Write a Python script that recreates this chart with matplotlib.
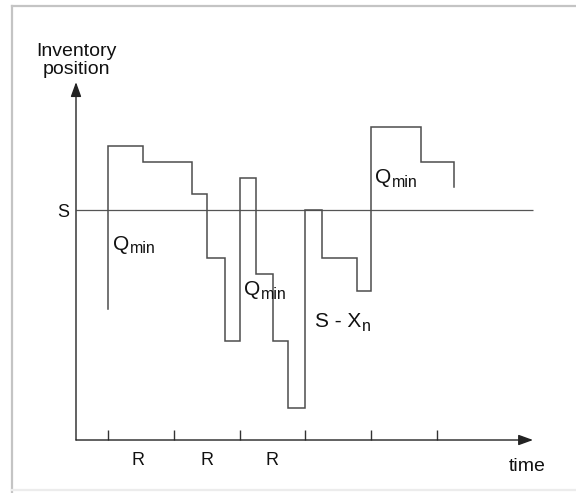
import matplotlib
matplotlib.use("Agg")
from matplotlib import pyplot as plt
from matplotlib.lines import Line2D

plt.rcParams['font.family'] = ['Liberation Sans', 'DejaVu Sans']

# review instants (one per R) and order-up-to level S
review_times = [1, 2, 3, 4, 5, 6]
R_label_pos = [1.45, 2.5, 3.5]
S_level = 100

# inventory position path: change instants and level held after each one
step_t = [1.0, 1.53, 2.28, 2.5, 2.78, 3.0, 3.25, 3.51, 3.74, 4.0,
          4.26, 4.78, 5.0, 5.76, 6.26]
step_level = [128, 121, 107, 79, 43, 114, 72, 43, 14, 100,
              79, 65, 136, 121]
start_level = 57
end_level = 110

# annotations: (main text, subscript, x, y)
labels = [('Q', 'min', 1.08, 82.6),
          ('Q', 'min', 3.07, 63),
          ('Q', 'min', 5.06, 111.7),
          ('S - X', 'n', 4.15, 49.1)]

fig = plt.figure(figsize=(5.76, 4.93), dpi=100)
ax = fig.add_axes([0, 0, 1, 1])
ax.set_xlim(-0.641, 8.113)
ax.set_ylim(-23.04, 191.3)
ax.axis('off')

# light frame around the picture (open on the right)
fl, ft, fb = 12 / 576, 1 - 6 / 493, 1 - 490 / 493
for xx, yy, c in [([fl, fl], [0, ft], '#c4c4c4'),
                  ([fl, 1], [ft, ft], '#c4c4c4'),
                  ([fl, 1], [fb, fb], '#ececec')]:
    fig.add_artist(Line2D(xx, yy, transform=fig.transFigure,
                          color=c, lw=1.6))

x0 = 0.514
x_end = 7.46
y_top = 155.6

# axes with arrows
arrow = dict(arrowstyle='-|>,head_length=0.55,head_width=0.2',
             color='#222222', lw=1.0, mutation_scale=16,
             shrinkA=0, shrinkB=0)
ax.annotate('', xy=(x0, y_top), xytext=(x0, 0), arrowprops=arrow)
ax.annotate('', xy=(x_end, 0), xytext=(x0, 0), arrowprops=arrow)
ax.vlines(review_times, 0, 4.3, color='#333333', lw=1.0)

# S level
ax.hlines(S_level, x0, x_end, color='#555555', lw=0.9)

# step path
xs = [step_t[0]]
ys = [start_level]
for i, lvl in enumerate(step_level):
    xs += [step_t[i], step_t[i + 1]]
    ys += [lvl, lvl]
xs.append(step_t[-1])
ys.append(end_level)
ax.plot(xs, ys, color='#4d4d4d', lw=1.1, solid_joinstyle='miter')

# labels
ax.text(x0, 165, 'Inventory\nposition', ha='center', va='center',
        fontsize=14, color='#111111', linespacing=1.15)
ax.text(0.316, 99, 'S', ha='center', va='center', fontsize=13,
        color='#111111')
for xr in R_label_pos:
    ax.text(xr, -8.7, 'R', ha='center', va='center', fontsize=13,
            color='#111111')
ax.text(7.37, -11.7, 'time', ha='center', va='center', fontsize=14,
        color='#111111')

fig.canvas.draw()
renderer = fig.canvas.get_renderer()
for main, sub, lx, ly in labels:
    t = ax.text(lx, ly, main, ha='left', va='baseline', fontsize=15,
                color='#111111')
    w = t.get_window_extent(renderer).width * 72 / fig.dpi
    ax.annotate(sub, xy=(lx, ly), xytext=(w + 0.5, -2.5),
                textcoords='offset points', ha='left', va='baseline',
                fontsize=11.5, color='#111111')

fig.savefig('out.png', dpi=100)
